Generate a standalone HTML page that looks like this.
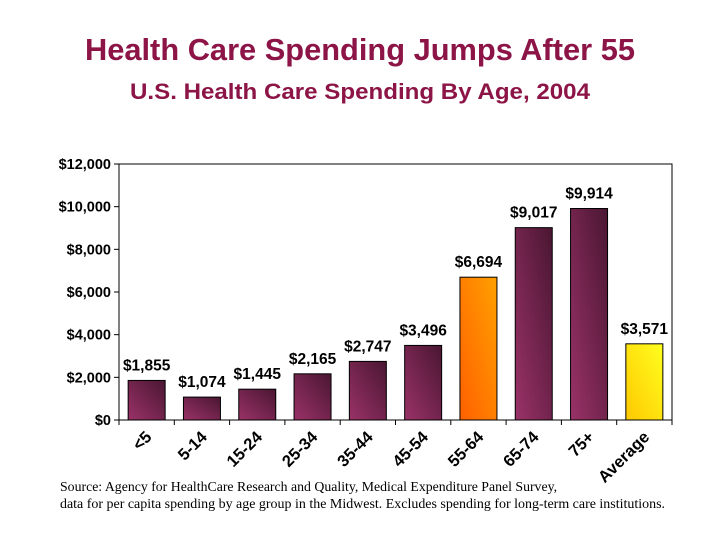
<!DOCTYPE html>
<html><head><meta charset="utf-8"><style>
body{margin:0;background:#fff;width:720px;height:540px;overflow:hidden;font-family:"Liberation Sans",sans-serif}
</style></head><body>
<svg width="720" height="540">
<defs>
<linearGradient id="gp" x1="0" y1="1" x2="1" y2="0"><stop offset="0" stop-color="#9a3268"/><stop offset="1" stop-color="#4a1632"/></linearGradient>
<linearGradient id="go" x1="0" y1="1" x2="1" y2="0"><stop offset="0" stop-color="#ff6000"/><stop offset="1" stop-color="#ffa000"/></linearGradient>
<linearGradient id="gy" x1="0" y1="1" x2="1" y2="0"><stop offset="0" stop-color="#ffc800"/><stop offset="1" stop-color="#ffff20"/></linearGradient>
</defs>
<text x="360" y="60" text-anchor="middle" font-size="31" font-weight="bold" fill="#8c1446" textLength="550" lengthAdjust="spacingAndGlyphs">Health Care Spending Jumps After 55</text>
<text x="360" y="99" text-anchor="middle" font-size="22" font-weight="bold" fill="#8c1446" textLength="460" lengthAdjust="spacingAndGlyphs">U.S. Health Care Spending By Age, 2004</text>
<rect x="119" y="164" width="553" height="256" fill="none" stroke="#000" stroke-width="1"/>
<g id="axes"></g><g id="bars"></g>
<text x="60" y="491" font-family="Liberation Serif,serif" font-size="13.8">Source: Agency for HealthCare Research and Quality, Medical Expenditure Panel Survey,</text>
<text x="60" y="508" font-family="Liberation Serif,serif" font-size="13.8" textLength="605" lengthAdjust="spacingAndGlyphs">data for per capita spending by age group in the Midwest. Excludes spending for long-term care institutions.</text>
</svg>
<script>
const categories=["<5","5-14","15-24","25-34","35-44","45-54","55-64","65-74","75+","Average"];
const values=[1855,1074,1445,2165,2747,3496,6694,9017,9914,3571];
const valueLabels=["$1,855","$1,074","$1,445","$2,165","$2,747","$3,496","$6,694","$9,017","$9,914","$3,571"];
const yTicks=[0,2000,4000,6000,8000,10000,12000];
const yTickLabels=["$0","$2,000","$4,000","$6,000","$8,000","$10,000","$12,000"];
const fills=["gp","gp","gp","gp","gp","gp","go","gp","gp","gy"];
const NS="http://www.w3.org/2000/svg";
const L=119,R=672,T=164,B=420,ymax=12000;
const y=v=>B-(v/ymax)*(B-T);
const cw=(R-L)/categories.length;
const xc=i=>L+cw*(i+0.5);
function mk(t,a,p,txt){const e=document.createElementNS(NS,t);for(const k in a)e.setAttribute(k,a[k]);if(txt!=null)e.textContent=txt;p.appendChild(e);return e;}
const ax=document.getElementById('axes'),bg=document.getElementById('bars');
yTicks.forEach((v,i)=>{
 const ln=mk('line',{x1:114,x2:119,y1:y(v),y2:y(v),stroke:'#000'},ax);
 
 
 const t=mk('text',{x:111,y:y(v)+5,'text-anchor':'end','font-size':14.5,'font-weight':'bold'},ax,yTickLabels[i]);
 
 
});
for(let i=0;i<=categories.length;i++){
 const ln=mk('line',{x1:L+cw*i,x2:L+cw*i,y1:B,y2:B+5,stroke:'#000'},ax);
 
 
}
categories.forEach((c,i)=>{
 const bw=37,x0=xc(i)-bw/2;
 const r=mk('rect',{x:x0,y:y(values[i]),width:bw,height:B-y(values[i]),fill:'url(#'+fills[i]+')',stroke:'#000','stroke-width':1},bg);
 
 
 const vl=mk('text',{x:xc(i),y:y(values[i])-10,'text-anchor':'middle','font-size':15.5,'font-weight':'bold'},bg,valueLabels[i]);
 
 
 const cx=xc(i)+6,cy=B+18;
 const cl=mk('text',{x:cx,y:cy,'text-anchor':'end','font-size':16.5,'font-weight':'bold',transform:'rotate(-45 '+cx+' '+cy+')'},bg,c);
 
 
});
</script>
</body></html>
